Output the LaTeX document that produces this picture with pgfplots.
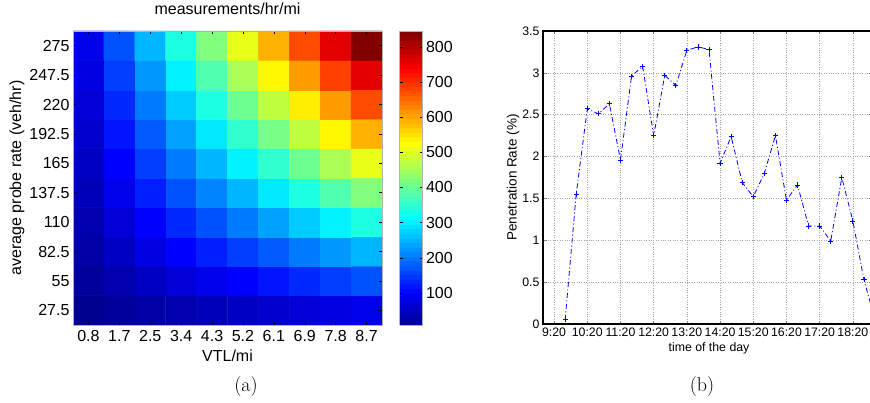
\documentclass[border=0pt]{standalone}
\usepackage{fontspec}
\newfontfamily\arial{Liberation Sans}
\usepackage{pgfplots}
\usepackage{pgfplotstable}
\pgfplotsset{compat=1.18}
\pgfplotsset{
  /pgf/number format/assume math mode=true,
  colormap={mjet}{rgb(0pt)=(0,0,0.5625) rgb(7pt)=(0,0,1) rgb(23pt)=(0,1,1)
    rgb(39pt)=(1,1,0) rgb(55pt)=(1,0,0) rgb(63pt)=(0.5,0,0)},
}
\newcommand\bigf{\arial\fontsize{16}{19}\selectfont}
\newcommand\smallf{\arial\fontsize{12.3}{14.5}\selectfont}

% measurements/hr/mi, x = VTL index, y = probe rate index
\pgfplotstableread{
x y c
1 1 8.5
2 1 16.9
3 1 25.4
4 1 33.8
5 1 42.3
6 1 50.7
7 1 59.2
8 1 67.6
9 1 76.1
10 1 84.5
1 2 16.9
2 2 33.8
3 2 50.7
4 2 67.6
5 2 84.5
6 2 101.4
7 2 118.3
8 2 135.2
9 2 152.1
10 2 169
1 3 25.4
2 3 50.7
3 3 76.1
4 3 101.4
5 3 126.8
6 3 152.1
7 3 177.5
8 3 202.8
9 3 228.2
10 3 253.5
1 4 33.8
2 4 67.6
3 4 101.4
4 4 135.2
5 4 169
6 4 202.8
7 4 236.6
8 4 270.4
9 4 304.2
10 4 338
1 5 42.3
2 5 84.5
3 5 126.8
4 5 169
5 5 211.3
6 5 253.5
7 5 295.8
8 5 338
9 5 380.3
10 5 422.5
1 6 50.7
2 6 101.4
3 6 152.1
4 6 202.8
5 6 253.5
6 6 304.2
7 6 354.9
8 6 405.6
9 6 456.3
10 6 507
1 7 59.2
2 7 118.3
3 7 177.5
4 7 236.6
5 7 295.8
6 7 354.9
7 7 414.1
8 7 473.2
9 7 532.4
10 7 591.5
1 8 67.6
2 8 135.2
3 8 202.8
4 8 270.4
5 8 338
6 8 405.6
7 8 473.2
8 8 540.8
9 8 608.4
10 8 676
1 9 76.1
2 9 152.1
3 9 228.2
4 9 304.2
5 9 380.3
6 9 456.3
7 9 532.4
8 9 608.4
9 9 684.5
10 9 760.5
1 10 84.5
2 10 169
3 10 253.5
4 10 338
5 10 422.5
6 10 507
7 10 591.5
8 10 676
9 10 760.5
10 10 845
}\heat

% penetration rate, x = minutes after 9:00
\pgfplotstableread{
t p
40 0.05
60 1.55
80 2.57
100 2.51
120 2.63
140 1.96
160 2.96
180 3.08
200 2.25
220 2.97
240 2.85
260 3.27
280 3.31
300 3.28
320 1.92
340 2.24
360 1.69
380 1.52
400 1.80
420 2.25
440 1.48
460 1.66
480 1.17
500 1.17
520 0.99
540 1.75
560 1.23
580 0.53
600 0.05
}\pen

\begin{document}
\begin{tikzpicture}
\useasboundingbox (0,0) rectangle (870pt,402pt);
\clip (0,0) rectangle (870pt,402pt);

% (a) heat map
\begin{axis}[
  name=heat,
  at={(73pt,77pt)}, anchor=south west,
  scale only axis, width=309pt, height=294pt,
  xmin=0.5, xmax=10.5, ymin=0.5, ymax=10.5,
  xtick={1,...,10}, ytick={1,...,10},
  xticklabels={0.8,1.7,2.5,3.4,4.3,5.2,6.1,6.9,7.8,8.7},
  yticklabels={27.5,55,82.5,110,137.5,165,192.5,220,247.5,275},
  tick label style={font=\bigf},
  xticklabel style={yshift=-2pt},
  xlabel={VTL/mi}, ylabel={average probe rate (veh/hr)},
  label style={font=\bigf},
  xlabel style={at={(axis description cs:0.5,-0.105)}, anchor=center},
  ylabel style={at={(axis description cs:-0.181,0.5)}, anchor=center},
  title={measurements/hr/mi},
  title style={font=\bigf, at={(axis description cs:0.5,1.055)}, anchor=center},
  colormap name=mjet,
  point meta min=8.45, point meta max=845,
  colorbar sampled,
  colorbar style={
    at={(parent axis.south east)}, anchor=south west, xshift=9pt,
    samples=65,
    scale only axis, width=23pt, height=294pt,
    ytick={100,200,...,800},
    yticklabel style={font=\bigf},
    axis line style={gray!60},
    major tick length=3pt, tick style={black},
  },
  axis line style={gray!60, line width=0.5pt},
  major tick length=3pt,
  tick style={black, line width=0.5pt},
  axis on top,
]
\addplot[matrix plot*, mesh/cols=10, point meta=explicit] table[x=x, y=y, meta=c] {\heat};
\end{axis}

% (b) penetration rate
\begin{axis}[
  at={(543pt,78pt)}, anchor=south west,
  scale only axis, width=332pt, height=293pt,
  xmin=0, xmax=600, ymin=0, ymax=3.5,
  xtick={20,80,...,560},
  xticklabels={9:20,10:20,11:20,12:20,13:20,14:20,15:20,16:20,17:20,18:20},
  ytick={0,0.5,1,1.5,2,2.5,3,3.5},
  tick label style={font=\smallf},
  xlabel={time of the day}, ylabel={Penetration Rate (\%)},
  label style={font=\smallf},
  ylabel style={font=\arial\fontsize{13.5}{16}\selectfont},
  xlabel style={at={(axis description cs:0.5,-0.082)}, anchor=center},
  ylabel style={at={(axis description cs:-0.09,0.5)}, anchor=center},
  grid=major, grid style={dotted, gray!70, line width=0.6pt},
  axis line style={line width=1.1pt},
  major tick length=3.5pt,
  tick style={gray, line width=0.6pt},
]
\addplot[blue, line width=0.8pt, dash pattern=on 5pt off 2.5pt on 1pt off 2.5pt,
  mark=+, mark size=2.6pt, mark options={solid, line width=0.8pt}] table[x=t, y=p] {\pen};
\end{axis}

\node[font=\fontsize{20}{24}\selectfont] at (246pt,15pt) {(a)};
\node[font=\fontsize{20}{24}\selectfont] at (702pt,15pt) {(b)};
\end{tikzpicture}
\end{document}
